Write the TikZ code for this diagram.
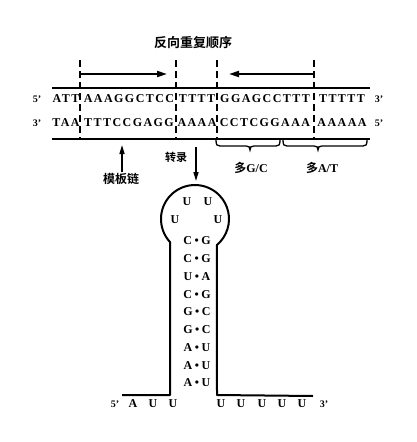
\documentclass[tikz,border=0pt]{standalone}
\usepackage{fontspec}
\setmainfont{Liberation Serif}
\newfontfamily\cjk{Noto Sans CJK SC}[BoldFont={* Bold}]
\usetikzlibrary{arrows.meta}
\tikzset{
  strand/.style={inner sep=0pt, font=\bfseries\fontsize{12}{12}\selectfont\addfontfeature{LetterSpace=12}},
  endlab/.style={inner sep=0pt, font=\bfseries\fontsize{10}{10}\selectfont},
  base/.style={inner sep=0pt, font=\bfseries\fontsize{12}{12}\selectfont},
  cjklab/.style={inner sep=0pt, font=\cjk\bfseries\fontsize{12}{12}\selectfont},
  dnaline/.style={line width=1.8pt},
  dashline/.style={line width=1.4pt, dash pattern=on 7pt off 4pt},
  harrow/.style={line width=1.8pt, -{Triangle[length=10pt,width=6pt]}},
  varrow/.style={line width=1.5pt, -{Triangle[length=9pt,width=5pt]}},
  stemline/.style={line width=2pt},
  bracel/.style={line width=1.3pt},
}
\begin{document}
\begin{tikzpicture}[x=1pt,y=1pt]
\useasboundingbox (0,0) rectangle (417,-442);
\fill[white] (0,0) rectangle (417,-442);
% title
\node[cjklab, font=\cjk\bfseries\fontsize{13}{13}\selectfont] (title) at (193,-43) {反向重复顺序};
% strand lines
\coordinate (tl) at (52,-88); \coordinate (tr) at (370,-88);
\coordinate (bl) at (52,-139); \coordinate (br) at (370,-139);
\draw[dnaline] (tl) -- (tr);
\draw[dnaline] (bl) -- (br);
% dashed separators
\foreach \i/\x in {1/80,2/176,3/217,4/314}{
  \coordinate (d\i t) at (\x,-60);
  \coordinate (d\i a) at (\x,-74);
  \coordinate (d\i b) at (\x,-139);
  \draw[dashline] (d\i t) -- (d\i b);
}
% inverted repeat arrows
\coordinate (a1) at (167,-74);
\coordinate (a2) at (229,-74);
\draw[harrow] (d1a) -- (a1);
\draw[harrow] (d4a) -- (a2);
% top strand
\node[endlab] (t5) at (37,-99) {5'};
\node[strand] (t1) at (66,-99) {ATT};
\node[strand] (t2) at (129,-99) {AAAGGCTCC};
\node[strand] (t3) at (197,-99) {TTTT};
\node[strand] (t4) at (265,-99) {GGAGCCTTT};
\node[strand] (t6) at (342,-99) {TTTTT};
\node[endlab] (t3p) at (379,-99) {3'};
% bottom strand
\node[endlab] (b3) at (37,-123) {3'};
\node[strand] (b1) at (66,-123) {TAA};
\node[strand] (b2) at (129,-123) {TTTCCGAGG};
\node[strand] (b3x) at (197,-123) {AAAA};
\node[strand] (b4) at (265,-123) {CCTCGGAAA};
\node[strand] (b6) at (342,-123) {AAAAA};
\node[endlab] (b5p) at (379,-123) {5'};
% braces
\draw[bracel] (216,-140) .. controls (216,-145) and (217,-146) .. (220,-146) -- (246,-146)
  .. controls (249,-146) and (250,-147) .. (250,-150) .. controls (250,-147) and (251,-146) .. (254,-146)
  -- (276,-146) .. controls (279,-146) and (280,-145) .. (280,-140);
\draw[bracel] (283,-140) .. controls (283,-145) and (284,-146) .. (287,-146) -- (314,-146)
  .. controls (317,-146) and (318,-147) .. (318,-150) .. controls (318,-147) and (319,-146) .. (322,-146)
  -- (363,-146) .. controls (366,-146) and (367,-145) .. (367,-140);
\node[cjklab] (gc) at (251,-168) {多\textrm{\bfseries G/C}};
\node[cjklab] (at) at (322,-168) {多\textrm{\bfseries A/T}};
% template strand arrow
\node[cjklab] (tmpl) at (121,-179) {模板链};
\coordinate (up0) at (122,-172);
\coordinate (up1) at (122,-145);
\draw[varrow] (up0) -- (up1);
% transcription arrow
\node[cjklab, font=\cjk\bfseries\fontsize{11}{11}\selectfont] (tr) at (176,-157) {转录};
\coordinate (dn0) at (196,-147);
\coordinate (dn1) at (196,-181);
\draw[varrow] (dn0) -- (dn1);
% stem-loop outline
\coordinate (sl0) at (122,-395);
\coordinate (sl1) at (170,-395);
\coordinate (sl2) at (170,-242.06);
\coordinate (sr1) at (217,-395);
\coordinate (sr0) at (313,-396);
\draw[stemline, line join=round] (sl0) -- (sl1) -- (sl2) arc[start angle=222.7, end angle=-49.8, radius=34] -- (sr1) -- (sr0);
% loop bases
\node[base] (u1) at (187,-202) {U};
\node[base] (u2) at (208,-202) {U};
\node[base] (u3) at (175,-220) {U};
\node[base] (u4) at (218,-220) {U};
% stem pairs
\foreach \i/\y/\l/\r in {1/241/C/G,2/258.75/C/G,3/276.5/U/A,4/294.25/C/G,5/312/G/C,6/329.75/G/C,7/347.5/A/U,8/365.25/A/U,9/383/A/U}{
  \node[base] (p\i) at (197,-\y) {\l\hspace{2.5pt}\textbullet\hspace{2.5pt}\r};
}
% tails
\node[endlab] (r5) at (115,-404) {5'};
\foreach \i/\x/\c in {1/133/A,2/153/U,3/173/U,4/221/U,5/241/U,6/262/U,7/282/U,8/302/U}{
  \node[base] (q\i) at (\x,-404) {\c};
}
\node[endlab] (r3) at (324,-404) {3'};
\end{tikzpicture}
\end{document}
